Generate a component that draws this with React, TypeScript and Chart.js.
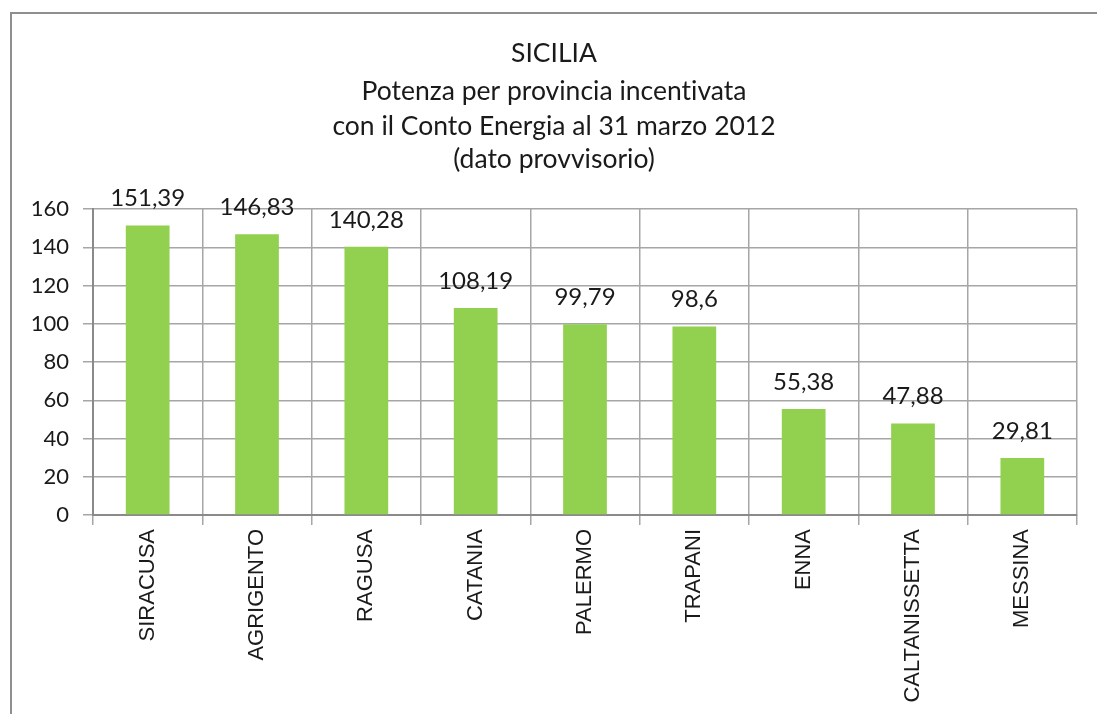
import React, { useEffect, useRef } from "react";
import { Chart, registerables } from "chart.js";

Chart.register(...registerables);

const TITLE_LINES = [
  "SICILIA",
  "Potenza per provincia incentivata",
  "con il Conto Energia al 31 marzo 2012",
  "(dato provvisorio)",
];
const CATEGORIES = [
  "SIRACUSA",
  "AGRIGENTO",
  "RAGUSA",
  "CATANIA",
  "PALERMO",
  "TRAPANI",
  "ENNA",
  "CALTANISSETTA",
  "MESSINA",
];
const VALUES = [151.39, 146.83, 140.28, 108.19, 99.79, 98.6, 55.38, 47.88, 29.81];
const Y_MIN = 0;
const Y_MAX = 160;
const Y_STEP = 20;

const FONT = "Lato, 'Open Sans', sans-serif";
const X_FONT = "'Liberation Sans', Arial, sans-serif";
const TEXT_COLOR = "#1a1a1a";

const framePlugin = {
  id: "frame",
  beforeDraw(chart: any) {
    const ctx = chart.ctx;
    ctx.save();
    ctx.fillStyle = "#ffffff";
    ctx.fillRect(0, 0, chart.width, chart.height);
    ctx.strokeStyle = "#8f8f8f";
    ctx.lineWidth = 2;
    ctx.strokeRect(11, 13, chart.width + 20, chart.height + 20);
    ctx.restore();
  },
  afterDraw(chart: any) {
    const ctx = chart.ctx;
    ctx.save();
    ctx.fillStyle = TEXT_COLOR;
    ctx.font = `26.5px ${FONT}`;
    try { (ctx as any).textRendering = "optimizeSpeed"; } catch (e) {}
    ctx.textAlign = "center";
    ctx.textBaseline = "alphabetic";
    const baselines = [62, 100, 135, 168];
    TITLE_LINES.forEach((line, i) => {
      ctx.fillText(line, 554, baselines[i]);
    });
    ctx.restore();
  },
};

const valueLabelPlugin = {
  id: "valueLabels",
  afterDatasetsDraw(chart: any) {
    const ctx = chart.ctx;
    const meta = chart.getDatasetMeta(0);
    ctx.save();
    ctx.fillStyle = TEXT_COLOR;
    ctx.font = `24px ${FONT}`;
    ctx.textAlign = "center";
    ctx.textBaseline = "alphabetic";
    meta.data.forEach((bar: any, i: number) => {
      const label = String(VALUES[i]).replace(".", ",");
      ctx.fillText(label, bar.x, bar.y - 19);
    });
    ctx.restore();
  },
};

export default function App() {
  const canvasRef = useRef<HTMLCanvasElement | null>(null);

  useEffect(() => {
    if (!canvasRef.current) return;
    const chart = new Chart(canvasRef.current, {
      type: "bar",
      data: {
        labels: CATEGORIES,
        datasets: [
          {
            data: VALUES,
            backgroundColor: "#92D050",
            borderWidth: 0,
            barPercentage: 0.4,
            categoryPercentage: 1,
          },
        ],
      },
      options: {
        responsive: false,
        animation: false,
        devicePixelRatio: 1,
        layout: { padding: { left: 0, top: 209, right: 20, bottom: 0 } },
        plugins: {
          legend: { display: false },
          title: { display: false },
          tooltip: { enabled: false },
        },
        scales: {
          x: {
            grid: {
              display: true,
              offset: true,
              color: "#a6a6a6",
              lineWidth: 1.5,
              tickLength: 10,
            },
            border: { color: "#8a8a8a", width: 2 },
            ticks: {
              color: TEXT_COLOR,
              font: { family: X_FONT, size: 22 },
              maxRotation: 90,
              minRotation: 90,
              padding: 4,
              autoSkip: false,
            },
            afterFit(scale: any) {
              scale.height = 199;
            },
          },
          y: {
            min: Y_MIN,
            max: Y_MAX,
            grid: {
              color: "#a6a6a6",
              lineWidth: 1.5,
              tickLength: 10,
            },
            border: { color: "#8a8a8a", width: 2 },
            ticks: {
              stepSize: Y_STEP,
              color: TEXT_COLOR,
              font: { family: FONT, size: 22 },
              padding: 14,
            },
            afterFit(scale: any) {
              scale.width = 93;
            },
          },
        },
      },
      plugins: [framePlugin, valueLabelPlugin],
    });
    return () => chart.destroy();
  }, []);

  return (
    <div style={{ position: "fixed", left: 0, top: 0, width: 1097, height: 714 }}>
      <canvas ref={canvasRef} width={1097} height={714} />
    </div>
  );
}
